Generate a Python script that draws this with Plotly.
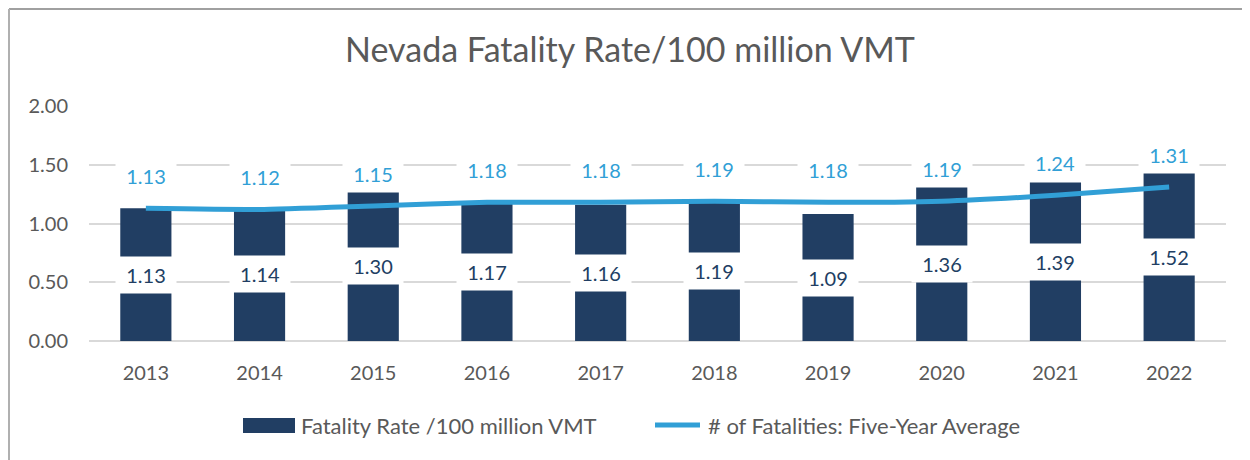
import plotly.graph_objects as go

# ---- data ----
years = ["2013", "2014", "2015", "2016", "2017", "2018", "2019", "2020", "2021", "2022"]
rate_bar_heights = [1.13, 1.14, 1.27, 1.17, 1.16, 1.19, 1.08, 1.31, 1.35, 1.43]
rate_labels = ["1.13", "1.14", "1.30", "1.17", "1.16", "1.19", "1.09", "1.36", "1.39", "1.52"]
avg_values = [1.13, 1.12, 1.15, 1.18, 1.18, 1.19, 1.18, 1.19, 1.24, 1.31]
y_ticks = [0.0, 0.5, 1.0, 1.5, 2.0]
bar_name = "Fatality Rate /100 million VMT"
line_name = "# of Fatalities: Five-Year Average"
title_text = "Nevada Fatality Rate/100 million VMT"

# ---- style ----
OFF = 8  # page body margin offset
W, H = 1250, 460
# target page-pixel plot box: x 89..1226, y 106..341
L = 89 - OFF
T = 106 - OFF
R = W - (1226 - OFF)
B = H - (341 - OFF)
BAR_COLOR = "#213E63"
LINE_COLOR = "#319FD6"
TEXT_GRAY = "#595959"
GRID = "#D9D9D9"
FONT = "Lato"
plot_w = W - L - R
plot_h = H - T - B


def px_x(p):
    # page pixel -> paper fraction
    return (p - OFF - L) / plot_w


def px_y(p):
    return (H - B - (p - OFF)) / plot_h


fig = go.Figure()
fig.add_trace(go.Bar(
    x=years, y=rate_bar_heights, name=bar_name,
    marker=dict(color=BAR_COLOR, line=dict(width=0)),
    showlegend=False, hoverinfo="x+y",
))
fig.add_trace(go.Scatter(
    x=years, y=avg_values, name=line_name, mode="lines",
    line=dict(color=LINE_COLOR, width=5, shape="spline", smoothing=0.5),
    showlegend=False,
))

annotations = []
for i, (h, lab) in enumerate(zip(rate_bar_heights, rate_labels)):
    annotations.append(dict(
        x=i, y=h / 2, xref="x", yref="y", text=lab, showarrow=False,
        font=dict(family=FONT, size=20, color=BAR_COLOR),
        bgcolor="white", borderpad=6, width=48, yanchor="middle",
    ))
for i, v in enumerate(avg_values):
    annotations.append(dict(
        x=i, y=v, xref="x", yref="y", text=f"{v:.2f}", showarrow=False,
        font=dict(family=FONT, size=20, color=LINE_COLOR),
        bgcolor="white", borderpad=6, width=48, yanchor="middle", yshift=32,
    ))

# custom legend
legend_y = 425
annotations.append(dict(
    x=px_x(299), y=px_y(legend_y), xref="paper", yref="paper", text=bar_name,
    showarrow=False, xanchor="left", yanchor="middle",
    font=dict(family=FONT, size=22, color=TEXT_GRAY),
))
annotations.append(dict(
    x=px_x(706), y=px_y(legend_y), xref="paper", yref="paper", text=line_name,
    showarrow=False, xanchor="left", yanchor="middle",
    font=dict(family=FONT, size=22, color=TEXT_GRAY),
))

shapes = [
    dict(type="rect", xref="paper", yref="paper",
         x0=px_x(243), x1=px_x(295), y0=px_y(418), y1=px_y(433),
         fillcolor=BAR_COLOR, line=dict(width=0)),
    dict(type="line", xref="paper", yref="paper",
         x0=px_x(655), x1=px_x(700), y0=px_y(legend_y), y1=px_y(legend_y),
         line=dict(color=LINE_COLOR, width=5)),
    # outer frame (top and left edges)
    dict(type="line", xref="paper", yref="paper",
         x0=px_x(9), x1=px_x(1270), y0=px_y(9), y1=px_y(9),
         line=dict(color="#A0A0A0", width=2)),
    dict(type="line", xref="paper", yref="paper",
         x0=px_x(9), x1=px_x(9), y0=px_y(9), y1=px_y(480),
         line=dict(color="#B0B0B0", width=2)),
]

fig.update_layout(
    width=W, height=H,
    margin=dict(l=L, r=R, t=T, b=B, pad=0),
    paper_bgcolor="white", plot_bgcolor="white",
    title=dict(text=title_text, x=(630 - OFF) / W, xref="container", xanchor="center",
               y=1 - (50 - OFF) / H, yref="container", yanchor="middle",
               font=dict(family=FONT, size=34, color=TEXT_GRAY)),
    bargap=0.55,
    showlegend=False,
    annotations=annotations,
    shapes=shapes,
    font=dict(family=FONT, color=TEXT_GRAY),
)
fig.update_xaxes(
    type="category", range=[-0.5, len(years) - 0.5], autorange=False,
    showgrid=False, showline=False, ticks="",
    tickfont=dict(family=FONT, size=20, color=TEXT_GRAY),
    ticklabelstandoff=18,
)
fig.update_yaxes(
    range=[0, 2], tickvals=y_ticks, tickformat=".2f",
    showgrid=True, gridcolor=GRID, gridwidth=1.5,
    zeroline=True, zerolinecolor=GRID, zerolinewidth=1.5,
    showline=False, ticks="",
    tickfont=dict(family=FONT, size=20, color=TEXT_GRAY),
    ticklabelstandoff=20,
)

fig.write_html("out.html")
